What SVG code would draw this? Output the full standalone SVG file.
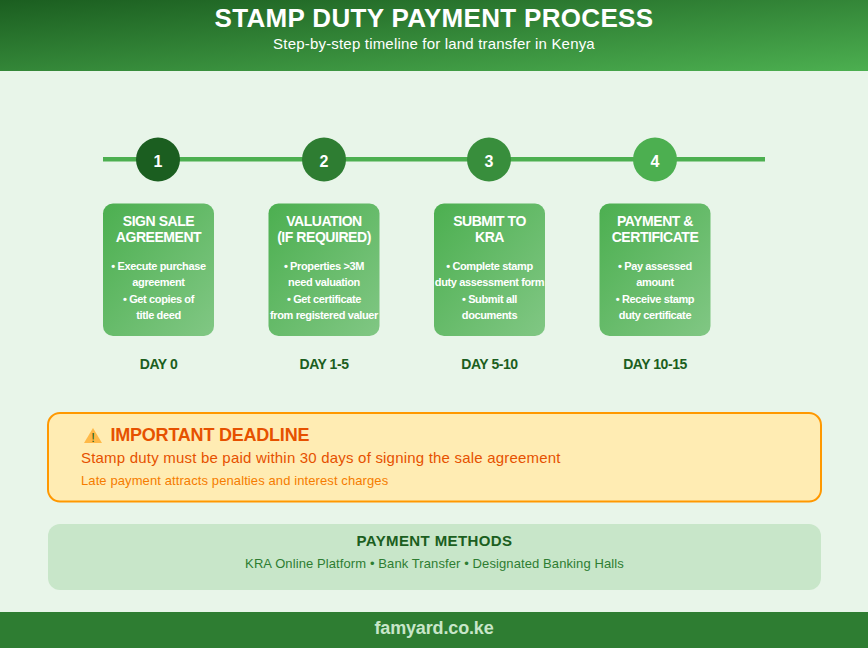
<svg xmlns="http://www.w3.org/2000/svg" width="868" height="648" viewBox="0 0 868 648">
<style>
text{font-family:"Liberation Sans",Arial,sans-serif;text-anchor:middle}
.num{font-size:16px;font-weight:700;fill:#fff}
.ct{font-size:14px;font-weight:700;fill:#fff;letter-spacing:-.45px}
.cb{font-size:11px;font-weight:700;fill:#fff;letter-spacing:-.37px}
.day{font-size:14px;font-weight:700;fill:#1b5e20;letter-spacing:-.45px}
.card{fill:url(#cg)}
.l{text-anchor:start}
</style>
<defs>
<linearGradient id="hg" x1="0" y1="0" x2="1" y2="1"><stop offset="0" stop-color="#1b5e20"/><stop offset="1" stop-color="#4caf50"/></linearGradient>
<linearGradient id="cg" x1="0" y1="0" x2="1" y2="1"><stop offset="0" stop-color="#4caf50"/><stop offset="1" stop-color="#81c784"/></linearGradient>
</defs>
<rect width="868" height="648" fill="#e8f5e9"/>
<g id="header"><rect width="868" height="71" fill="url(#hg)"/>
<text x="434" y="27" font-size="26" font-weight="700" fill="#fff" letter-spacing=".32">STAMP DUTY PAYMENT PROCESS</text>
<text x="434" y="49" font-size="15" fill="#fff" letter-spacing=".19">Step-by-step timeline for land transfer in Kenya</text></g>
<g id="connectors"><rect x="103" y="157" width="662" height="4.500" fill="#4caf50"/></g>
<g id="step1"><circle cx="158" cy="159.500" r="22" fill="#1b5e20"/><text class="num" x="158" y="167">1</text>
<rect class="card" x="103" y="203.500" width="111" height="132.500" rx="10"/>
<text class="ct" x="158.500" y="226">SIGN SALE</text><text class="ct" x="158.500" y="242">AGREEMENT</text>
<text class="cb" x="158.500" y="270">• Execute purchase</text><text class="cb" x="158.500" y="286">agreement</text><text class="cb" x="158.500" y="303">• Get copies of</text><text class="cb" x="158.500" y="319">title deed</text>
<text class="day" x="158.500" y="369">DAY 0</text></g>
<g id="step2"><circle cx="324" cy="159.500" r="22" fill="#2e7d32"/><text class="num" x="324" y="167">2</text>
<rect class="card" x="268.500" y="203.500" width="111" height="132.500" rx="10"/>
<text class="ct" x="324" y="226">VALUATION</text><text class="ct" x="324" y="242">(IF REQUIRED)</text>
<text class="cb" x="324" y="270">• Properties &gt;3M</text><text class="cb" x="324" y="286">need valuation</text><text class="cb" x="324" y="303">• Get certificate</text><text class="cb" x="324" y="319">from registered valuer</text>
<text class="day" x="324" y="369">DAY 1-5</text></g>
<g id="step3"><circle cx="489" cy="159.500" r="22" fill="#388e3c"/><text class="num" x="489" y="167">3</text>
<rect class="card" x="434" y="203.500" width="111" height="132.500" rx="10"/>
<text class="ct" x="489.500" y="226">SUBMIT TO</text><text class="ct" x="489.500" y="242">KRA</text>
<text class="cb" x="489.500" y="270">• Complete stamp</text><text class="cb" x="489.500" y="286">duty assessment form</text><text class="cb" x="489.500" y="303">• Submit all</text><text class="cb" x="489.500" y="319">documents</text>
<text class="day" x="489.500" y="369">DAY 5-10</text></g>
<g id="step4"><circle cx="655" cy="159.500" r="22" fill="#4caf50"/><text class="num" x="655" y="167">4</text>
<rect class="card" x="599.500" y="203.500" width="111" height="132.500" rx="10"/>
<text class="ct" x="655" y="226">PAYMENT &amp;</text><text class="ct" x="655" y="242">CERTIFICATE</text>
<text class="cb" x="655" y="270">• Pay assessed</text><text class="cb" x="655" y="286">amount</text><text class="cb" x="655" y="303">• Receive stamp</text><text class="cb" x="655" y="319">duty certificate</text>
<text class="day" x="655" y="369">DAY 10-15</text></g>
<g id="deadline"><rect x="48" y="413" width="773" height="88.500" rx="12" fill="#ffecb3" stroke="#ff9800" stroke-width="2"/>
<polygon points="93,428 102,443 84,443" fill="#ff9800" opacity=".6"/>
<text x="93" y="442" font-size="13" font-weight="400" fill="#1b5e20">!</text>
<text class="l" x="110.500" y="441" font-size="18" font-weight="700" fill="#e65100" letter-spacing="-.22">IMPORTANT DEADLINE</text>
<text class="l" x="81" y="463" font-size="15" fill="#e65100" letter-spacing=".2">Stamp duty must be paid within 30 days of signing the sale agreement</text>
<text class="l" x="81" y="485" font-size="13" fill="#f57c00" letter-spacing=".1">Late payment attracts penalties and interest charges</text></g>
<g id="methods"><rect x="48" y="524" width="773" height="66" rx="12" fill="#c8e6c9"/>
<text x="434.500" y="546" font-size="15" font-weight="700" fill="#1b5e20" letter-spacing=".4">PAYMENT METHODS</text>
<text x="434.500" y="568" font-size="13" fill="#2e7d32" letter-spacing=".1">KRA Online Platform • Bank Transfer • Designated Banking Halls</text></g>
<g id="footer"><rect y="612" width="868" height="36" fill="#2e7d32"/>
<text x="434" y="634" font-size="18" font-weight="700" fill="#c8e6c9" letter-spacing="-.15">famyard.co.ke</text></g>
</svg>
